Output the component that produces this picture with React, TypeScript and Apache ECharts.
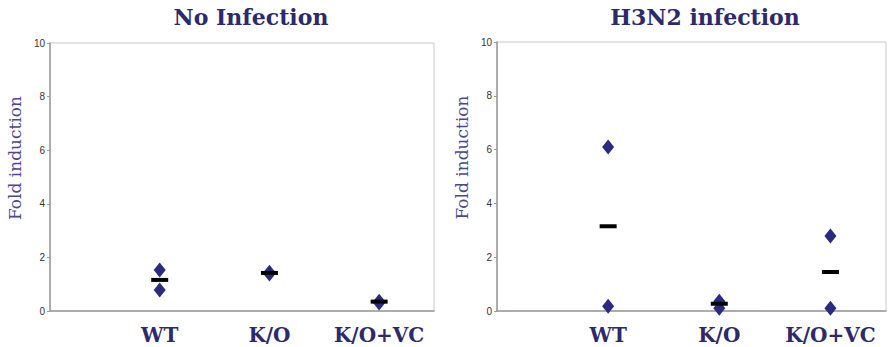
import React, { useEffect, useRef } from "react";
import * as echarts from "echarts";

const categories = ["WT", "K/O", "K/O+VC"];
const panelTitles = ["No Infection", "H3N2 infection"];
const yTicks = [0, 2, 4, 6, 8, 10];

// individual replicate values (diamonds), per category
const noInfA = [1.53, 1.45, 0.36];
const noInfB = [0.78, 1.38, 0.3];
const noInfMean = [1.16, 1.42, 0.35];

const h3n2A = [6.1, 0.36, 2.79];
const h3n2B = [0.18, 0.1, 0.1];
const h3n2Mean = [3.15, 0.27, 1.45];

const NAVY = "#2b2a80";
const TITLE = "#2d2a6a";

export default function App() {
  const ref = useRef<HTMLDivElement>(null);
  useEffect(() => {
    if (!ref.current) return;
    const chart = echarts.init(ref.current, undefined, { renderer: "svg" });
    const grids = [
      { left: 50, top: 43, width: 384, height: 268 },
      { left: 497, top: 42, width: 394, height: 269 },
    ];
    const centers = [246, 700];
    const mk = (i: number) => ({
      gridIndex: i,
      type: "value",
      min: 0,
      max: 3.5,
      interval: 1,
      axisLine: { show: true, lineStyle: { color: "#9a9a9a", width: 1.5 } },
      axisTick: { show: false },
      splitLine: { show: false },
      axisLabel: {
        margin: 14,
        color: TITLE,
        fontFamily: "DejaVu Serif",
        fontWeight: "bold",
        fontSize: 20,
        formatter: (v: number) =>
          Number.isInteger(v) && v >= 1 && v <= categories.length ? categories[v - 1] : "",
      },
    });
    const mky = (i: number) => ({
      gridIndex: i,
      type: "value",
      min: yTicks[0],
      max: yTicks[yTicks.length - 1],
      interval: 2,
      name: "Fold induction",
      nameLocation: "middle",
      nameGap: 27,
      nameTextStyle: {
        color: "#4b4890",
        fontFamily: "DejaVu Serif",
        fontSize: 17,
        padding: [0, 0, 0, 38],
      },
      axisLine: { show: true, lineStyle: { color: "#9a9a9a", width: 1.5 } },
      axisTick: { show: true, length: 3, lineStyle: { color: "#9a9a9a" } },
      splitLine: { show: false },
      axisLabel: { margin: 5, color: "#3a3030", fontFamily: "Liberation Sans", fontSize: 10 },
    });
    const pts = (a: number[], b: number[]) => {
      const out: number[][] = [];
      categories.forEach((_, k) => {
        out.push([k + 1, a[k]]);
        out.push([k + 1, b[k]]);
      });
      return out;
    };
    const means = (m: number[]) => m.map((v, k) => [k + 1, v]);
    const diamond = (i: number, d: number[][]) => ({
      type: "scatter",
      xAxisIndex: i,
      yAxisIndex: i,
      symbol: "diamond",
      symbolSize: [12, 15],
      itemStyle: { color: NAVY, opacity: 1 },
      data: d,
      z: 2,
    });
    const dash = (i: number, d: number[][]) => ({
      type: "scatter",
      xAxisIndex: i,
      yAxisIndex: i,
      symbol: "rect",
      symbolSize: [17, 4],
      itemStyle: { color: "#000", opacity: 1 },
      data: d,
      z: 3,
    });
    chart.setOption({
      animation: false,
      grid: grids.map((g) => ({ ...g, show: true, borderColor: "#c8c8c8", borderWidth: 1, backgroundColor: "transparent" })),
      xAxis: [mk(0), mk(1)],
      yAxis: [mky(0), mky(1)],
      title: panelTitles.map((t, i) => ({
        text: t,
        left: centers[i],
        top: 1,
        textAlign: "center",
        textStyle: { color: TITLE, fontFamily: "DejaVu Serif", fontWeight: "bold", fontSize: 22 },
      })),
      series: [
        diamond(0, pts(noInfA, noInfB)),
        dash(0, means(noInfMean)),
        diamond(1, pts(h3n2A, h3n2B)),
        dash(1, means(h3n2Mean)),
      ],
    });
    return () => chart.dispose();
  }, []);
  return (
    <div
      ref={ref}
      style={{ position: "fixed", left: 0, top: 0, width: 889, height: 347, background: "#fff" }}
    />
  );
}
